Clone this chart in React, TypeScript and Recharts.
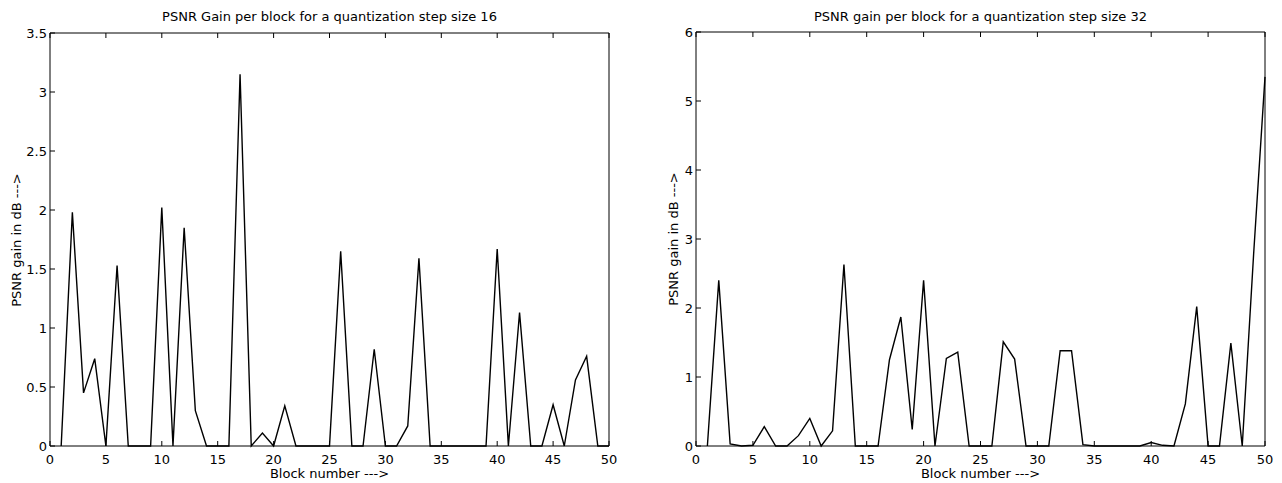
import React from "react";
import { LineChart, Line, XAxis, YAxis } from "recharts";

// block numbers 1..50
const blocks = Array.from({ length: 50 }, (_, i) => i + 1);

// PSNR gain (dB) per block, quantization step size 16
const gain16 = [
  0, 1.98, 0.45, 0.74, 0, 1.53, 0, 0, 0, 2.02,
  0, 1.85, 0.3, 0, 0, 0, 3.15, 0, 0.11, 0,
  0.34, 0, 0, 0, 0, 1.65, 0, 0, 0.82, 0,
  0, 0.17, 1.59, 0, 0, 0, 0, 0, 0, 1.67,
  0, 1.13, 0, 0, 0.35, 0, 0.56, 0.76, 0, 0,
];

// PSNR gain (dB) per block, quantization step size 32
const gain32 = [
  0, 2.4, 0.03, 0, 0.01, 0.28, 0, 0, 0.15, 0.4,
  0, 0.22, 2.63, 0, 0, 0, 1.25, 1.87, 0.24, 2.4,
  0, 1.27, 1.36, 0, 0, 0, 1.51, 1.26, 0, 0,
  0, 1.38, 1.38, 0.02, 0, 0, 0, 0, 0, 0.05,
  0.01, 0, 0.61, 2.02, 0, 0, 1.49, 0, 2.78, 5.35,
];

const xTicks = [0, 5, 10, 15, 20, 25, 30, 35, 40, 45, 50];
const yTicks16 = [0, 0.5, 1, 1.5, 2, 2.5, 3, 3.5];
const yTicks32 = [0, 1, 2, 3, 4, 5, 6];

const data16 = blocks.map((b, i) => ({ block: b, gain: gain16[i] }));
const data32 = blocks.map((b, i) => ({ block: b, gain: gain32[i] }));

const FONT = "'DejaVu Sans', Arial, sans-serif";
const tickStyle = { fontSize: 13, fill: "#000", fontFamily: FONT };
const axisLine = { stroke: "#000", strokeWidth: 1 };

interface PanelProps {
  left: number;
  width: number;
  yAxisWidth: number;
  yLabelX: number;
  plotTop: number;
  plotRight: number;
  data: { block: number; gain: number }[];
  yMax: number;
  yTicks: number[];
  title: string;
}

function Panel({ left, width, yAxisWidth, yLabelX, plotTop, plotRight, data, yMax, yTicks, title }: PanelProps) {
  const cx = (yAxisWidth + plotRight) / 2;
  const cy = (plotTop + 446) / 2;
  const text: React.CSSProperties = {
    position: "absolute",
    fontFamily: FONT,
    fontSize: 13,
    color: "#000",
    whiteSpace: "nowrap",
    lineHeight: "13px",
  };
  return (
    <div style={{ position: "absolute", left, top: 0, width, height: 483 }}>
      <LineChart
        width={width}
        height={483}
        data={data}
        margin={{ top: plotTop - 1, right: width - plotRight - 1, bottom: 0, left: 0 }}
      >
        <XAxis
          xAxisId="b"
          dataKey="block"
          type="number"
          domain={[0, 50]}
          ticks={xTicks}
          height={37}
          tickSize={-5}
          tickMargin={14}
          axisLine={axisLine}
          tickLine={{ stroke: "#000" }}
          tick={tickStyle}
          interval={0}
        />
        <XAxis
          xAxisId="t"
          orientation="top"
          dataKey="block"
          type="number"
          domain={[0, 50]}
          ticks={xTicks}
          height={1}
          tickSize={-5}
          tickFormatter={() => ""}
          axisLine={axisLine}
          tickLine={{ stroke: "#000" }}
          interval={0}
        />
        <YAxis
          yAxisId="l"
          type="number"
          domain={[0, yMax]}
          ticks={yTicks}
          width={yAxisWidth}
          tickSize={-5}
          tickMargin={8}
          axisLine={axisLine}
          tickLine={{ stroke: "#000" }}
          tick={tickStyle}
          interval={0}
        />
        <YAxis
          yAxisId="r"
          orientation="right"
          type="number"
          domain={[0, yMax]}
          ticks={yTicks}
          width={1}
          tickSize={-5}
          tickFormatter={() => ""}
          axisLine={axisLine}
          tickLine={{ stroke: "#000" }}
          interval={0}
        />
        <Line
          xAxisId="b"
          yAxisId="l"
          type="linear"
          dataKey="gain"
          stroke="#000"
          strokeWidth={1.4}
          dot={false}
          activeDot={false}
          isAnimationActive={false}
        />
      </LineChart>
      <div style={{ ...text, left: cx, top: 16, transform: "translate(-50%, -50%)" }}>{title}</div>
      <div style={{ ...text, left: cx, top: 473, transform: "translate(-50%, -50%)" }}>Block number ---&gt;</div>
      <div
        style={{
          ...text,
          left: yLabelX,
          top: cy,
          transform: "translate(-50%, -50%) rotate(-90deg)",
        }}
      >
        PSNR gain in dB ---&gt;
      </div>
    </div>
  );
}

export default function App() {
  return (
    <div style={{ position: "absolute", left: 0, top: 0, width: 1282, height: 483, background: "#fff" }}>
      <Panel
        left={0}
        width={641}
        yAxisWidth={50}
        yLabelX={16}
        plotTop={33}
        plotRight={609}
        data={data16}
        yMax={3.5}
        yTicks={yTicks16}
        title="PSNR Gain per block for a quantization step size 16"
      />
      <Panel
        left={641}
        width={641}
        yAxisWidth={55}
        yLabelX={32}
        plotTop={32}
        plotRight={624}
        data={data32}
        yMax={6}
        yTicks={yTicks32}
        title="PSNR gain per block for a quantization step size 32"
      />
    </div>
  );
}
